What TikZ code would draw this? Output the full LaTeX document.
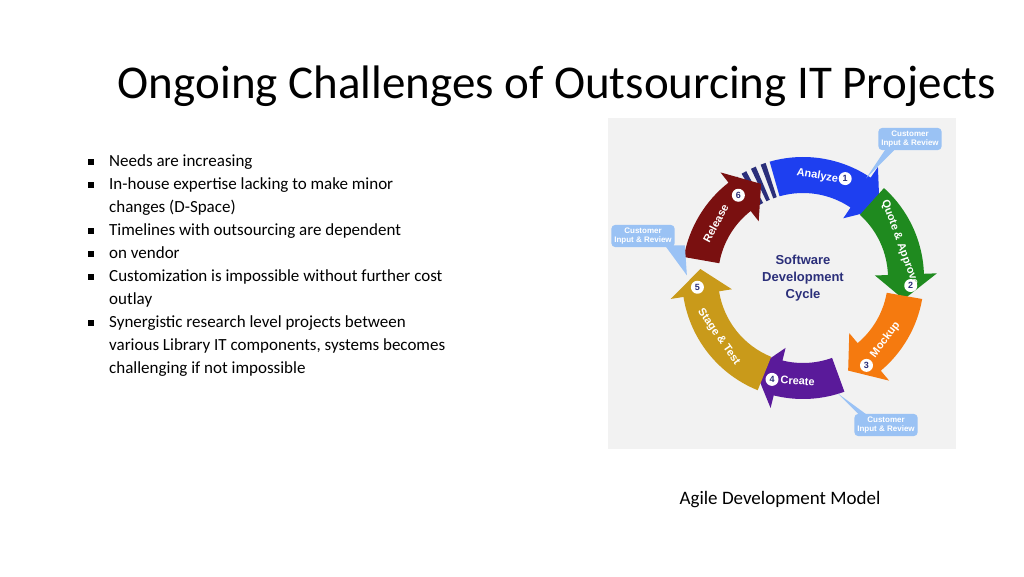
\documentclass[tikz,border=0pt]{standalone}
\usepackage{fontspec}
\setmainfont{Carlito}
\newfontfamily\diagfont{Liberation Sans}
\tikzset{>=latex}
\definecolor{bgray}{HTML}{F2F2F2}
\definecolor{callblue}{HTML}{6FA8F0}
\definecolor{navytxt}{HTML}{2B2F7A}
\definecolor{cAnalyze}{HTML}{1E3FF0}
\definecolor{cQuote}{HTML}{1F8A1F}
\definecolor{cMock}{HTML}{F57A0F}
\definecolor{cCreate}{HTML}{5A1A9A}
\definecolor{cStage}{HTML}{C99A1A}
\definecolor{cRelease}{HTML}{7A1010}
% ring arrow: start angle, end angle, colour
\newcommand{\ringarrow}[3]{%
  \fill[#3] (#1:121) arc[start angle=#1, end angle=#2+14, radius=121]
    -- (#2+14:134) -- (#2:103) -- (#2+14:72) -- (#2+14:85)
    arc[start angle=#2+14, end angle=#1, radius=85] -- cycle;}
\newcommand{\sq}{\llap{\rule[1.5pt]{6pt}{6pt}\hspace{15pt}}}
\begin{document}
\begin{tikzpicture}[x=1pt,y=1pt,
  bullet/.style={anchor=north west,align=left,font=\fontsize{17}{23}\selectfont},
  steplabel/.style={text=white,font=\diagfont\bfseries\fontsize{11}{12}\selectfont},
  numdot/.style={circle,fill=white,inner sep=0pt,minimum size=13pt,text=navytxt,font=\diagfont\bfseries\fontsize{9}{9}\selectfont},
  callout/.style={fill=callblue!70,rounded corners=4pt,text=white,align=center,inner sep=3pt,font=\diagfont\bfseries\fontsize{8}{9}\selectfont}]
\useasboundingbox (0,0) rectangle (1024,576);
\node[font=\fontsize{47}{50}\selectfont] (title) at (557,490) {Ongoing Challenges of Outsourcing IT Projects};

\node[bullet,inner sep=0pt] (list) at (109,422) {%
\sq Needs are increasing\\
\sq In-house expertise lacking to make minor\\
changes (D-Space)\\
\sq Timelines with outsourcing are dependent\\
\sq on vendor\\
\sq Customization is impossible without further cost\\
outlay\\
\sq Synergistic research level projects between\\
various Library IT components, systems becomes\\
challenging if not impossible};

\fill[bgray] (608,127) rectangle (956,458);

\begin{scope}[shift={(803,298)}]
\foreach \a in {108,113,118,123}
  \fill[navytxt] (\a:85) arc[start angle=\a, end angle=\a+2.5, radius=85] -- (\a+2.5:121) arc[start angle=\a+2.5, end angle=\a, radius=121] -- cycle;
\ringarrow{106}{42}{cAnalyze}
\ringarrow{48}{-12}{cQuote}
\ringarrow{-10}{-64}{cMock}
\ringarrow{-70}{-118}{cCreate}
\ringarrow{-112}{-185}{cStage}
\ringarrow{170}{114}{cRelease}
\node[steplabel,rotate=-10] (lanalyze) at (82:103) {Analyze};
\node[steplabel,rotate=-70] (lquote) at (20:103) {Quote \& Approve};
\node[steplabel,rotate=53] (lmock) at (-37:103) {Mockup};
\node[steplabel,rotate=-3] (lcreate) at (-93:103) {Create};
\node[steplabel,rotate=-55] (lstage) at (-145:103) {Stage \& Test};
\node[steplabel,rotate=62] (lrelease) at (148:103) {Release};
\node[numdot] (n1) at (67:108) {1};
\node[numdot] (n2) at (-4:108) {2};
\node[numdot] (n3) at (-54:108) {3};
\node[numdot] (n4) at (-107:106) {4};
\node[numdot] (n5) at (185:106) {5};
\node[numdot] (n6) at (128:105) {6};
\node[align=center,text=navytxt,font=\diagfont\bfseries\fontsize{13}{17}\selectfont] (centre) at (0,0) {Software\\Development\\Cycle};
\end{scope}

\node[callout] (cr1) at (910,437) {Customer\\Input \& Review};
\node[callout] (cr2) at (643,340) {Customer\\Input \& Review};
\node[callout] (cr3) at (886,151) {Customer\\Input \& Review};
\fill[callblue!70] (cr1.south west)++(8,2) -- ++(-20,-30) -- ++(28,28) -- cycle;
\fill[callblue!70] (cr2.south east)++(-10,2) -- ++(22,-30) -- ++(-2,30) -- cycle;
\fill[callblue!70] (cr3.north west)++(6,-2) -- ++(-22,22) -- ++(30,-22) -- cycle;

\node[font=\fontsize{19}{22}\selectfont] (caption) at (780,76) {Agile Development Model};
\end{tikzpicture}
\end{document}
